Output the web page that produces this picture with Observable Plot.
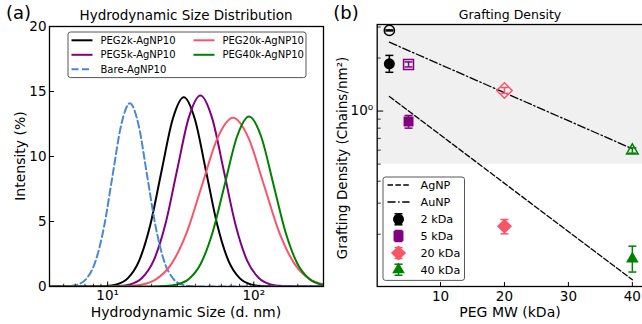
<!DOCTYPE html>
<html><head><meta charset="utf-8">
<script src="https://cdn.jsdelivr.net/npm/d3@7"></script>
<script src="https://cdn.jsdelivr.net/npm/@observablehq/plot@0.6"></script>
<style>
html,body{margin:0;padding:0;background:#fff;}
#wrap{position:relative;width:642px;height:324px;overflow:hidden;font-family:"DejaVu Sans",sans-serif;color:#000;background:#fff;}
.t{position:absolute;white-space:nowrap;line-height:1;}
</style></head><body><div id="wrap"></div>
<script>
// ---------- Panel (a) data: hydrodynamic size distributions ----------
const seriesA = ["PEG2k-AgNP10", "PEG5k-AgNP10", "Bare-AgNP10", "PEG20k-AgNP10", "PEG40k-AgNP10"];
const size2k  = [4, 8.11, 9.67, 11.53, 13.76, 16.41, 19.57, 23.33, 27.83, 33.19, 39.58, 47.21, 56.30, 67.14, 80.08, 95.50, 113.9, 135.8, 300];
const int2k   = [0, 0.004, 0.03, 0.16, 0.64, 1.97, 4.73, 8.83, 12.85, 14.56, 12.85, 8.83, 4.73, 1.97, 0.64, 0.16, 0.03, 0.004, 0];
const size5k  = [4, 9.87, 11.87, 14.27, 17.16, 20.63, 24.81, 29.83, 35.86, 43.11, 51.83, 62.32, 74.93, 90.06, 108.3, 130.2, 156.5, 188.2, 300];
const int5k   = [0, 0.004, 0.03, 0.16, 0.65, 1.99, 4.77, 8.92, 12.97, 14.7, 12.97, 8.92, 4.77, 1.99, 0.65, 0.16, 0.03, 0.004, 0];
const sizeBare = [4, 4.79, 5.48, 6.28, 7.19, 8.24, 9.44, 10.81, 12.39, 14.19, 16.26, 18.62, 21.33, 24.43, 27.99, 32.06, 36.73, 42.07, 300];
const intBare  = [0, 0.004, 0.03, 0.16, 0.62, 1.91, 4.58, 8.55, 12.44, 14.1, 12.44, 8.55, 4.58, 1.91, 0.62, 0.16, 0.03, 0.004, 0];
const size20k = [4, 10.42, 13.27, 16.90, 21.53, 27.42, 34.91, 44.46, 56.62, 72.11, 91.83, 116.9, 148.9, 189.7, 241.5, 307.6];
const int20k  = [0, 0.004, 0.03, 0.14, 0.57, 1.76, 4.21, 7.87, 11.45, 12.98, 11.45, 7.87, 4.21, 1.76, 0.57, 0.14];
const size40k = [4, 20.32, 24.58, 29.72, 35.94, 43.45, 52.54, 63.53, 76.82, 92.90, 112.3, 135.8, 164.2, 198.6, 240.2, 290.4, 351.2];
const int40k  = [0, 0.004, 0.03, 0.15, 0.57, 1.77, 4.25, 7.93, 11.54, 13.08, 11.54, 7.93, 4.25, 1.77, 0.57, 0.15, 0.03];
const xMajorA = [10, 100];
const xMajorLabelsA = ["10¹", "10²"];
const xMinorA = [5, 6, 7, 8, 9, 20, 30, 40, 50, 60, 70, 80, 90, 200];
const yTicksA = [0, 5, 10, 15, 20];

// ---------- Panel (b) data: grafting density ----------
const pegMW = [2, 5, 20, 40];
const pegLabels = ["2 kDa", "5 kDa", "20 kDa", "40 kDa"];
const agDensity = [1.855, 0.873, 0.222, 0.145];
const agLow  = [1.66, 0.80, 0.201, 0.122];
const agHigh = [2.07, 0.944, 0.2425, 0.171];
const auDensity = [2.87, 1.838, 1.309, 0.597];
const auLow  = [2.85, 1.78, 1.26, 0.577];
const auHigh = [2.89, 1.90, 1.36, 0.618];
const fitMW = [2, 40];
const agFit = [1.21, 0.1103];
const auFit = [2.46, 0.611];
const shadeFrom = [0.5];
const fitLabels = ["AgNP", "AuNP"];
const xTicksB = [10, 20, 30, 40];
const yMajorB = [1];
const yMinorB = [0.2, 0.3, 0.4, 0.5, 0.6, 0.7, 0.8, 0.9, 2, 3];

// ---------- styles ----------
const colorsA = ["#000000", "#800080", "#4a88d4", "#f9556a", "#008000"];
const dashA = [null, null, "7,3.5", null, null];
const colorsB = ["#000000", "#800080", "#f9556a", "#008000"];
const symbolsB = ["circle", "square", "diamond2", "triangle"];
const rFilled = [5.5, 5.6, 6.8, 4.7];
const rOpen = [5.1, 5.6, 7, 4.3];
const fitDash = ["5.5,2.4", "8,2.6,1.5,2.6"];
const xDomainA = [4, 300], yDomainA = [0, 20];
const xDomainB = [0.1, 41.9], yDomainB = [0.101, 3.1];
const FONT = "DejaVu Sans";

const wrap = document.getElementById("wrap");

// custom symbols
const tickUp = {draw(c, s) { const l = Math.sqrt(s / Math.PI); c.moveTo(0, 0); c.lineTo(0, -l); }};
const tickRight = {draw(c, s) { const l = Math.sqrt(s / Math.PI); c.moveTo(0, 0); c.lineTo(l, 0); }};
const hline = {draw(c, s) { const w = Math.sqrt(s / Math.PI); c.moveTo(-w, 0); c.lineTo(w, 0); }};

function addText(txt, x, y, size, rotate) {
  const d = document.createElement("div");
  d.className = "t";
  d.textContent = txt;
  d.style.left = x + "px"; d.style.top = y + "px"; d.style.fontSize = size + "px";
  d.style.transform = "translate(-50%,-50%)" + (rotate ? " rotate(-90deg)" : "");
  wrap.appendChild(d);
}

// ---------- Panel (a) ----------
const sizesA = [size2k, size5k, sizeBare, size20k, size40k];
const intsA = [int2k, int5k, intBare, int20k, int40k];
const plotA = Plot.plot({
  width: 330, height: 324,
  marginLeft: 49, marginRight: 7, marginTop: 26, marginBottom: 38,
  style: {fontFamily: FONT, fontSize: "13.5px", background: "transparent", color: "black", overflow: "visible"},
  x: {type: "log", domain: xDomainA, axis: null, label: null},
  y: {domain: yDomainA, axis: null, label: null},
  marks: [
    ...seriesA.map((s, i) => Plot.line(sizesA[i].map((x, j) => ({size: x, intensity: intsA[i][j]})),
      {x: "size", y: "intensity", stroke: colorsA[i], strokeWidth: 2, strokeDasharray: dashA[i], curve: "monotone-x", clip: true})),
    Plot.dot(xMajorA, {x: d => d, frameAnchor: "bottom", symbol: tickUp, r: 5, stroke: "black", fill: "none", strokeWidth: 1}),
    Plot.dot(xMinorA, {x: d => d, frameAnchor: "bottom", symbol: tickUp, r: 2.8, stroke: "black", fill: "none", strokeWidth: 0.8}),
    Plot.dot(yTicksA, {y: d => d, frameAnchor: "left", symbol: tickRight, r: 4.5, stroke: "black", fill: "none", strokeWidth: 1}),
    Plot.axisX(xMajorA, {tickSize: 0, tickPadding: 4, label: null, tickFormat: d => xMajorLabelsA[xMajorA.indexOf(d)]}),
    Plot.axisY(yTicksA, {tickSize: 0, tickPadding: 3, label: null}),
    Plot.frame({stroke: "black", strokeWidth: 1.3})
  ]
});
plotA.style.position = "absolute"; plotA.style.left = "0px"; plotA.style.top = "0px";
wrap.appendChild(plotA);

// ---------- Panel (b) ----------
const rowsB = pegMW.map((p, i) => ({mw: p, ag: agDensity[i], agLo: agLow[i], agHi: agHigh[i], au: auDensity[i], auLo: auLow[i], auHi: auHigh[i]}));
const fitRows = [agFit, auFit].map(f => fitMW.map((x, j) => ({mw: x, g: f[j]})));
const marksB = [
  Plot.rect(shadeFrom, {x1: xDomainB[0], x2: xDomainB[1], y1: d => d, y2: yDomainB[1], fill: "#f0f0f0"}),
  ...fitRows.map((rows, k) => Plot.line(rows, {x: "mw", y: "g", stroke: "black", strokeWidth: 1.3, strokeDasharray: fitDash[k]}))
];
rowsB.forEach((r, i) => {
  marksB.push(
    Plot.ruleX([r], {x: "mw", y1: "auLo", y2: "auHi", stroke: colorsB[i], strokeWidth: 1.5}),
    Plot.dot([r], {x: "mw", y: "auLo", symbol: hline, r: 4, stroke: colorsB[i], fill: "none", strokeWidth: 1.5}),
    Plot.dot([r], {x: "mw", y: "auHi", symbol: hline, r: 4, stroke: colorsB[i], fill: "none", strokeWidth: 1.5}),
    Plot.dot([r], {x: "mw", y: "au", symbol: symbolsB[i], r: rOpen[i], stroke: colorsB[i], fill: "none", strokeWidth: 1.5}),
    Plot.ruleX([r], {x: "mw", y1: "agLo", y2: "agHi", stroke: colorsB[i], strokeWidth: 1.5}),
    Plot.dot([r], {x: "mw", y: "agLo", symbol: hline, r: 4, stroke: colorsB[i], fill: "none", strokeWidth: 1.5}),
    Plot.dot([r], {x: "mw", y: "agHi", symbol: hline, r: 4, stroke: colorsB[i], fill: "none", strokeWidth: 1.5}),
    Plot.dot([r], {x: "mw", y: "ag", symbol: symbolsB[i], r: rFilled[i], fill: colorsB[i], stroke: "none"})
  );
});
marksB.push(
  Plot.dot(xTicksB, {x: d => d, frameAnchor: "bottom", symbol: tickUp, r: 4.5, stroke: "black", fill: "none", strokeWidth: 1}),
  Plot.dot(yMajorB, {y: d => d, frameAnchor: "left", symbol: tickRight, r: 6, stroke: "black", fill: "none", strokeWidth: 1}),
  Plot.dot(yMinorB, {y: d => d, frameAnchor: "left", symbol: tickRight, r: 3.5, stroke: "black", fill: "none", strokeWidth: 0.8}),
  Plot.axisX(xTicksB, {tickSize: 0, tickPadding: 4.5, label: null}),
  Plot.axisY(yMajorB, {tickSize: 0, tickPadding: 4, label: null, tickFormat: () => "10⁰"}),
  Plot.frame({stroke: "black", strokeWidth: 1.3})
);
const plotB = Plot.plot({
  width: 314, height: 324,
  marginLeft: 46.7, marginRight: 0, marginTop: 24, marginBottom: 38,
  style: {fontFamily: FONT, fontSize: "13.5px", background: "transparent", color: "black", overflow: "visible"},
  x: {domain: xDomainB, axis: null, label: null},
  y: {type: "log", domain: yDomainB, axis: null, label: null},
  marks: marksB
});
plotB.style.position = "absolute"; plotB.style.left = "330px"; plotB.style.top = "0px";
wrap.appendChild(plotB);

// ---------- legends ----------
function legendBox(x, y, w, h) {
  const svg = d3.create("svg").attr("width", w + 4).attr("height", h + 4)
    .style("position", "absolute").style("left", (x - 2) + "px").style("top", (y - 2) + "px")
    .style("font-family", FONT);
  svg.append("rect").attr("x", 2).attr("y", 2).attr("width", w).attr("height", h).attr("rx", 2.5)
    .attr("fill", "white").attr("fill-opacity", 0.85).attr("stroke", "#444").attr("stroke-width", 0.9);
  wrap.appendChild(svg.node());
  return svg.append("g").attr("transform", "translate(2,2)");
}
// legend (a): column-major, 3 rows
const gA = legendBox(67.7, 31.7, 238, 45.6);
const rowY = [8.3, 22.8, 37.3];
seriesA.forEach((s, i) => {
  const col = i < 3 ? 0 : 1, row = i < 3 ? i : i - 3;
  const lx = col === 0 ? 3.5 : 125.5, y = rowY[row];
  gA.append("line").attr("x1", lx).attr("x2", lx + 21).attr("y1", y).attr("y2", y)
    .attr("stroke", colorsA[i]).attr("stroke-width", 2).attr("stroke-dasharray", dashA[i]);
  gA.append("text").attr("x", lx + 29).attr("y", y).attr("dy", "0.35em").attr("font-size", 10).text(s);
});
// legend (b)
const gB = legendBox(383, 177.3, 81.5, 103.4);
const rowYB = [8, 25, 42.3, 59, 76, 92.7];
fitLabels.forEach((s, k) => {
  const y = rowYB[k];
  gB.append("line").attr("x1", 4.5).attr("x2", 26.5).attr("y1", y).attr("y2", y)
    .attr("stroke", "black").attr("stroke-width", 1.3).attr("stroke-dasharray", fitDash[k]);
  gB.append("text").attr("x", 37.5).attr("y", y).attr("dy", "0.35em").attr("font-size", 11.2).text(s);
});
const d3sym = {circle: d3.symbolCircle, square: d3.symbolSquare, diamond2: d3.symbolDiamond2, triangle: d3.symbolTriangle};
pegLabels.forEach((s, i) => {
  const y = rowYB[i + 2], cx = 15.5;
  gB.append("line").attr("x1", cx).attr("x2", cx).attr("y1", y - 5.5).attr("y2", y + 5.5).attr("stroke", colorsB[i]).attr("stroke-width", 1.5);
  [-5.5, 5.5].forEach(o => gB.append("line").attr("x1", cx - 4).attr("x2", cx + 4).attr("y1", y + o).attr("y2", y + o).attr("stroke", colorsB[i]).attr("stroke-width", 1.5));
  gB.append("path").attr("transform", `translate(${cx},${y})`)
    .attr("d", d3.symbol(d3sym[symbolsB[i]], Math.PI * rFilled[i] * rFilled[i])()).attr("fill", colorsB[i]);
  gB.append("text").attr("x", 37.5).attr("y", y).attr("dy", "0.35em").attr("font-size", 11.2).text(s);
});

// ---------- titles & axis labels ----------
addText("(a)", 18.5, 12.5, 18);
addText("Hydrodynamic Size Distribution", 186, 15.5, 13.5);
addText("Intensity (%)", 20, 156, 14, true);
addText("Hydrodynamic Size (d. nm)", 186, 311.5, 14);
addText("(b)", 346, 12.5, 18);
addText("Grafting Density", 510, 14.5, 12.5);
addText("Grafting Density (Chains/nm²)", 343, 158, 13.5, true);
addText("PEG MW (kDa)", 510, 312, 14);
</script></body></html>
